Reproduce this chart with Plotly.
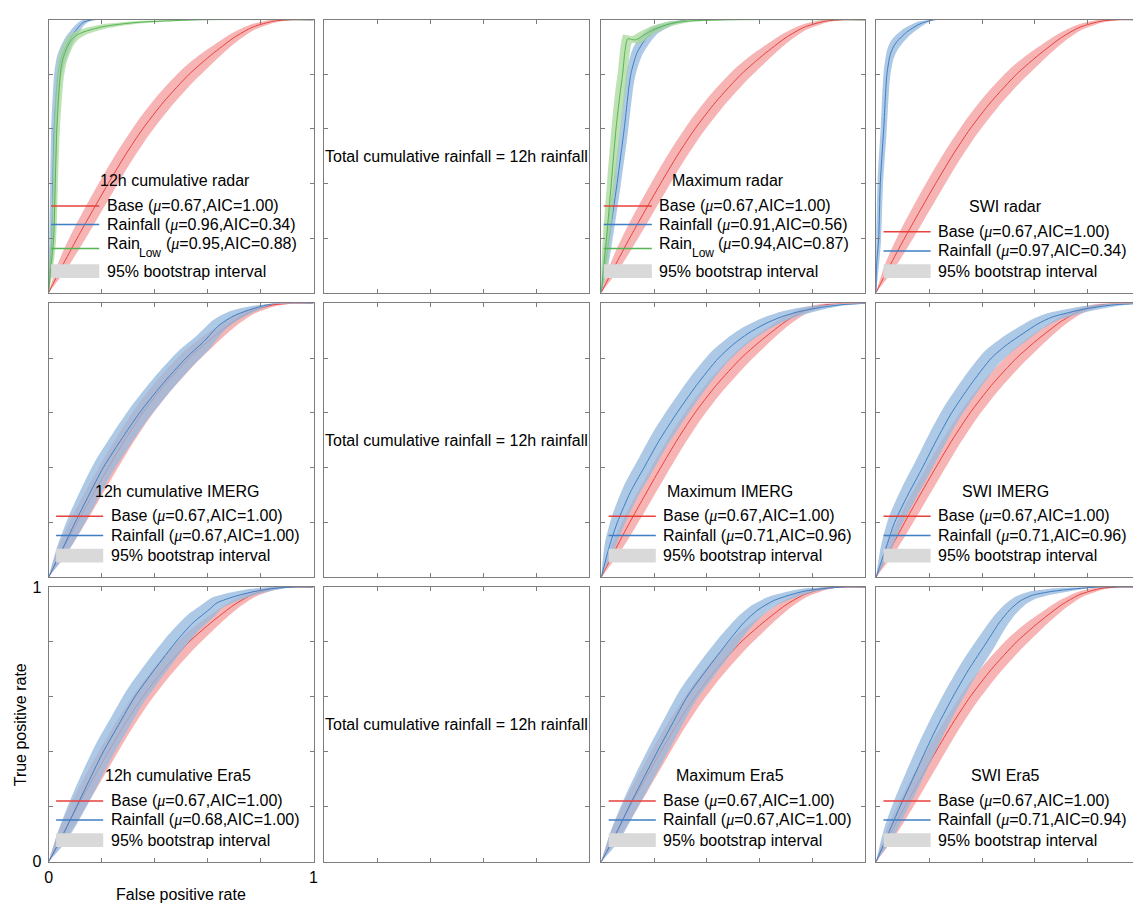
import plotly.graph_objects as go

W, H = 1138, 914

# ---------------- data ----------------
# Base model ROC (same in every panel)
base_fpr = [0, 0.05, 0.108, 0.16, 0.225, 0.29, 0.355, 0.435, 0.53, 0.6, 0.645, 0.7, 0.77, 0.85, 0.92, 1.0]
base_tpr = [0, 0.095, 0.2, 0.29, 0.4, 0.505, 0.6, 0.7, 0.8, 0.86, 0.895, 0.935, 0.973, 0.995, 1.0, 1.0]
base_band = [0, 0.014, 0.02, 0.022, 0.023, 0.023, 0.023, 0.023, 0.022, 0.019, 0.016, 0.013, 0.009, 0.005, 0, 0]

# 12h cumulative radar
r12_rain_fpr = [0, 0.004, 0.012, 0.016, 0.021, 0.028, 0.035, 0.045, 0.056, 0.075, 0.094, 0.13, 0.17, 1.0]
r12_rain_tpr = [0, 0.08, 0.2, 0.4, 0.6, 0.72, 0.8, 0.85, 0.88, 0.92, 0.95, 0.99, 1.0, 1.0]
r12_rain_band = [0, 0.007, 0.009, 0.01, 0.011, 0.012, 0.013, 0.014, 0.014, 0.013, 0.011, 0.007, 0, 0]
r12_low_fpr = [0, 0.006, 0.019, 0.025, 0.031, 0.037, 0.044, 0.052, 0.062, 0.081, 0.1, 0.131, 0.206, 0.33, 0.58, 1.0]
r12_low_tpr = [0, 0.07, 0.2, 0.4, 0.6, 0.71, 0.8, 0.85, 0.88, 0.92, 0.94, 0.955, 0.975, 0.99, 1.0, 1.0]
r12_low_band = [0, 0.007, 0.009, 0.01, 0.011, 0.012, 0.013, 0.014, 0.014, 0.013, 0.012, 0.01, 0.008, 0.005, 0, 0]

# Maximum radar
rmax_rain_fpr = [0, 0.012, 0.03, 0.06, 0.087, 0.112, 0.136, 0.165, 0.2, 0.26, 0.33, 1.0]
rmax_rain_tpr = [0, 0.08, 0.2, 0.4, 0.6, 0.8, 0.88, 0.925, 0.96, 0.985, 1.0, 1.0]
rmax_rain_band = [0, 0.009, 0.012, 0.013, 0.014, 0.015, 0.016, 0.015, 0.012, 0.007, 0, 0]
rmax_low_fpr = [0, 0.008, 0.02, 0.038, 0.056, 0.07, 0.081, 0.09, 0.1, 0.115, 0.13, 0.16, 0.2, 0.26, 0.33, 0.5, 1.0]
rmax_low_tpr = [0, 0.08, 0.2, 0.4, 0.6, 0.72, 0.8, 0.885, 0.93, 0.928, 0.926, 0.943, 0.965, 0.985, 0.995, 1.0, 1.0]
rmax_low_band = [0, 0.01, 0.013, 0.015, 0.016, 0.017, 0.017, 0.017, 0.016, 0.015, 0.014, 0.013, 0.011, 0.008, 0.004, 0, 0]

# SWI radar
rswi_rain_fpr = [0, 0.002, 0.01, 0.016, 0.029, 0.041, 0.053, 0.065, 0.079, 0.116, 0.166, 0.22, 1.0]
rswi_rain_tpr = [0, 0.1, 0.2, 0.4, 0.6, 0.8, 0.87, 0.9, 0.92, 0.955, 0.985, 1.0, 1.0]
rswi_rain_band = [0, 0.008, 0.009, 0.01, 0.011, 0.012, 0.013, 0.014, 0.014, 0.012, 0.008, 0, 0]

# 12h cumulative IMERG
i12_rain_fpr = [0, 0.048, 0.1, 0.152, 0.206, 0.272, 0.343, 0.425, 0.518, 0.585, 0.643, 0.7, 0.77, 0.855, 1.0]
i12_rain_tpr = [0, 0.095, 0.2, 0.3, 0.4, 0.5, 0.6, 0.7, 0.8, 0.86, 0.92, 0.955, 0.98, 1.0, 1.0]
i12_rain_band = [0, 0.016, 0.024, 0.027, 0.028, 0.028, 0.028, 0.028, 0.027, 0.024, 0.02, 0.016, 0.01, 0, 0]

# Maximum IMERG
imax_rain_fpr = [0, 0.03, 0.061, 0.11, 0.162, 0.22, 0.287, 0.36, 0.444, 0.5, 0.556, 0.62, 0.68, 0.75, 0.83, 0.92, 1.0]
imax_rain_tpr = [0, 0.11, 0.2, 0.31, 0.4, 0.5, 0.6, 0.7, 0.8, 0.85, 0.89, 0.925, 0.95, 0.97, 0.985, 0.996, 1.0]
imax_rain_band = [0, 0.016, 0.021, 0.024, 0.025, 0.026, 0.026, 0.026, 0.025, 0.023, 0.021, 0.018, 0.015, 0.012, 0.008, 0.003, 0]

# SWI IMERG
iswi_rain_fpr = [0, 0.035, 0.07, 0.12, 0.175, 0.228, 0.285, 0.355, 0.435, 0.495, 0.555, 0.61, 0.665, 0.79, 0.9, 1.0]
iswi_rain_tpr = [0, 0.1, 0.2, 0.3, 0.4, 0.5, 0.6, 0.7, 0.8, 0.85, 0.89, 0.925, 0.95, 0.98, 0.995, 1.0]
iswi_rain_band = [0, 0.016, 0.021, 0.024, 0.025, 0.026, 0.026, 0.026, 0.025, 0.023, 0.021, 0.018, 0.015, 0.01, 0.005, 0]

# 12h cumulative Era5
e12_rain_fpr = [0, 0.05, 0.105, 0.155, 0.206, 0.265, 0.325, 0.4, 0.48, 0.545, 0.605, 0.635, 0.7, 0.768, 0.85, 0.93, 1.0]
e12_rain_tpr = [0, 0.09, 0.2, 0.3, 0.4, 0.5, 0.6, 0.7, 0.8, 0.87, 0.917, 0.942, 0.965, 0.982, 0.995, 1.0, 1.0]
e12_rain_band = [0, 0.016, 0.024, 0.027, 0.028, 0.028, 0.028, 0.028, 0.027, 0.025, 0.022, 0.019, 0.015, 0.011, 0.006, 0, 0]

# Maximum Era5
emax_rain_fpr = [0, 0.05, 0.105, 0.158, 0.212, 0.268, 0.325, 0.4, 0.48, 0.54, 0.594, 0.657, 0.77, 0.91, 1.0]
emax_rain_tpr = [0, 0.09, 0.2, 0.3, 0.4, 0.5, 0.6, 0.7, 0.8, 0.87, 0.917, 0.952, 0.985, 1.0, 1.0]
emax_rain_band = [0, 0.016, 0.022, 0.025, 0.026, 0.026, 0.026, 0.026, 0.025, 0.022, 0.019, 0.015, 0.009, 0, 0]

# SWI Era5
eswi_rain_fpr = [0, 0.045, 0.09, 0.138, 0.185, 0.235, 0.29, 0.35, 0.418, 0.465, 0.505, 0.545, 0.59, 0.65, 0.715, 0.84, 1.0]
eswi_rain_tpr = [0, 0.1, 0.2, 0.3, 0.4, 0.5, 0.6, 0.7, 0.8, 0.87, 0.917, 0.95, 0.97, 0.982, 0.99, 1.0, 1.0]
eswi_rain_band = [0, 0.016, 0.022, 0.025, 0.026, 0.026, 0.026, 0.026, 0.025, 0.022, 0.019, 0.016, 0.013, 0.01, 0.007, 0, 0]

panel_titles = [
    ["12h cumulative radar", None, "Maximum radar", "SWI radar"],
    ["12h cumulative IMERG", None, "Maximum IMERG", "SWI IMERG"],
    ["12h cumulative Era5", None, "Maximum Era5", "SWI Era5"],
]
middle_text = "Total cumulative rainfall = 12h rainfall"

# legend statistics: (mu, AIC)
base_stats = ("0.67", "1.00")
rain_stats = [
    [("0.96", "0.34"), None, ("0.91", "0.56"), ("0.97", "0.34")],
    [("0.67", "1.00"), None, ("0.71", "0.96"), ("0.71", "0.96")],
    [("0.68", "1.00"), None, ("0.67", "1.00"), ("0.71", "0.94")],
]
low_stats = [[("0.95", "0.88"), None, ("0.94", "0.87"), None], None, None]

rain_curves = [
    [(r12_rain_fpr, r12_rain_tpr, r12_rain_band), None,
     (rmax_rain_fpr, rmax_rain_tpr, rmax_rain_band), (rswi_rain_fpr, rswi_rain_tpr, rswi_rain_band)],
    [(i12_rain_fpr, i12_rain_tpr, i12_rain_band), None,
     (imax_rain_fpr, imax_rain_tpr, imax_rain_band), (iswi_rain_fpr, iswi_rain_tpr, iswi_rain_band)],
    [(e12_rain_fpr, e12_rain_tpr, e12_rain_band), None,
     (emax_rain_fpr, emax_rain_tpr, emax_rain_band), (eswi_rain_fpr, eswi_rain_tpr, eswi_rain_band)],
]
low_curves = [[(r12_low_fpr, r12_low_tpr, r12_low_band), None,
               (rmax_low_fpr, rmax_low_tpr, rmax_low_band), None], None, None]

major_ticks = [0, 1]
minor_ticks = [0.2, 0.4, 0.6, 0.8]

# ---------------- style ----------------
FONT = "Arial, 'Liberation Sans', Helvetica, sans-serif"
RED, RED_FILL = "#E8413C", "rgba(242,125,125,0.58)"
BLUE, BLUE_FILL = "#3F7EC4", "rgba(150,186,222,0.78)"
GREEN, GREEN_FILL = "#55B553", "rgba(165,215,150,0.72)"
GRAY_PATCH = "#D9D9D9"
AXCOL = "#7d7d7d"

cols_px = [(45, 312), (323, 590), (602, 868), (879, 1146)]
rows_px = [(12, 290), (301, 580), (590, 870)]


def fx(p):
    return p / W


def fy(p):
    return 1 - p / H


fig = go.Figure()
annotations = []
shapes = []


def band_polygon(x, y, d):
    ux = [max(0.0, a - b) for a, b in zip(x, d)]
    uy = [min(1.0, a + b) for a, b in zip(y, d)]
    lx = [min(1.0, a + b) for a, b in zip(x, d)]
    ly = [max(0.0, a - b) for a, b in zip(y, d)]
    return ux + lx[::-1] + [ux[0]], uy + ly[::-1] + [uy[0]]


def add_curve(n, curve, line_col, fill_col):
    x, y, d = curve
    px_, py_ = band_polygon(x, y, d)
    ax = "" if n == 1 else str(n)
    fig.add_trace(go.Scatter(x=px_, y=py_, mode="lines", fill="toself", fillcolor=fill_col,
                             line=dict(width=0, shape="spline", smoothing=0.7), hoverinfo="skip",
                             showlegend=False, xaxis="x" + ax, yaxis="y" + ax))
    fig.add_trace(go.Scatter(x=x, y=y, mode="lines",
                             line=dict(color=line_col, width=1, shape="spline", smoothing=0.7),
                             showlegend=False, xaxis="x" + ax, yaxis="y" + ax))


MU = "<span style=\"font-family:'Liberation Serif', 'Times New Roman', serif\"><i>μ</i></span>"


def stat_text(st):
    return f"({MU}={st[0]},AIC={st[1]})"


def txt(x, y, text, size=16, xanchor="left", angle=0):
    annotations.append(dict(x=x, y=y, xref="paper", yref="paper", text=text, showarrow=False,
                            xanchor=xanchor, yanchor="middle", textangle=angle,
                            font=dict(family=FONT, size=size, color="black")))


# advance widths (Arial metrics) used to set the hand-made subscript
RAIN_W = 2.056 * 16
LOW_W = 1.834 * 12
SPACE_W = 0.278 * 16

layout_axes = {}
n = 0
for r in range(3):
    for c in range(4):
        n += 1
        x0, x1 = cols_px[c]
        y0, y1 = rows_px[r]
        clipped = x1 > W
        dom_x = [fx(x0), min(1.0, fx(x1))]
        xmax = (min(x1, W) - x0) / (x1 - x0)
        dom_y = [fy(y1), fy(y0)]
        labelled = (r == 2 and c == 0)
        common = dict(showgrid=False, zeroline=False, showline=True, linecolor=AXCOL, linewidth=1,
                      ticks="inside", ticklen=4, tickwidth=1, tickcolor=AXCOL,
                      tickmode="array", tickvals=major_ticks, showticklabels=labelled,
                      tickfont=dict(family=FONT, size=16, color="black"),
                      minor=dict(tickmode="array", tickvals=minor_ticks, ticks="inside", ticklen=4,
                                 tickwidth=1, tickcolor=AXCOL, showgrid=False),
                      fixedrange=True)
        xa = dict(domain=dom_x, range=[0, xmax], mirror="ticks", ticklabelstandoff=1,
                  anchor="y" if n == 1 else f"y{n}", **common)
        ya = dict(domain=dom_y, range=[0, 1], mirror=False if clipped else "ticks", ticklabelstandoff=3,
                  anchor="x" if n == 1 else f"x{n}", **common)
        key = "" if n == 1 else str(n)
        layout_axes["xaxis" + key] = xa
        layout_axes["yaxis" + key] = ya

        if c == 1:
            txt(fx((x0 + x1) / 2), fy((y0 + y1) / 2), middle_text, xanchor="center")
            fig.add_trace(go.Scatter(x=[None], y=[None], xaxis="x" + key, yaxis="y" + key,
                                     showlegend=False))
            continue

        add_curve(n, (base_fpr, base_tpr, base_band), RED, RED_FILL)
        add_curve(n, rain_curves[r][c], BLUE, BLUE_FILL)
        has_low = low_curves[r] is not None and low_curves[r][c] is not None
        if has_low:
            add_curve(n, low_curves[r][c], GREEN, GREEN_FILL)

        # legend block (drawn by hand, MATLAB style)
        entries = [("Base", base_stats, RED), ("Rainfall", rain_stats[r][c], BLUE)]
        if has_low:
            entries.append(("RainLow", low_stats[r][c], GREEN))
            title_rel = (127.5, 114)
            lx0, lx1, tx = 2.5, 51, 56.5
            rows_rel = [88.3, 69.3, 45]
        else:
            title_rel = (130, 87.5)
            lx0, lx1, tx = 7.5, 55, 60.5
            rows_rel = [62, 42.5]
        patch_rel = 22
        txt(fx(x0 + title_rel[0]), fy(y1 - title_rel[1]), panel_titles[r][c], xanchor="center")
        for (name, st, col), ry in zip(entries, rows_rel):
            shapes.append(dict(type="line", xref="paper", yref="paper",
                               x0=fx(x0 + lx0), x1=fx(x0 + lx1), y0=fy(y1 - ry), y1=fy(y1 - ry),
                               line=dict(color=col, width=1.5)))
            if name == "RainLow":
                ty = ry + 5
                txt(fx(x0 + tx), fy(y1 - ty), "Rain")
                txt(fx(x0 + tx + RAIN_W), fy(y1 - ry + 4.5), "Low", size=12)
                txt(fx(x0 + tx + RAIN_W + LOW_W + SPACE_W), fy(y1 - ty), stat_text(st))
            else:
                txt(fx(x0 + tx), fy(y1 - ry), f"{name} {stat_text(st)}")
        shapes.append(dict(type="rect", xref="paper", yref="paper",
                           x0=fx(x0 + lx0), x1=fx(x0 + lx1), y0=fy(y1 - patch_rel - 7), y1=fy(y1 - patch_rel + 7),
                           fillcolor=GRAY_PATCH, line=dict(width=0)))
        txt(fx(x0 + tx), fy(y1 - patch_rel), "95% bootstrap interval")

# axis titles
txt(fx(178.5), fy(903), "False positive rate", xanchor="center")
txt(fx(17), fy(730), "True positive rate", xanchor="center", angle=-90)

fig.update_layout(width=W, height=H, margin=dict(l=0, r=0, t=0, b=0),
                  paper_bgcolor="white", plot_bgcolor="white", showlegend=False,
                  annotations=annotations, shapes=shapes,
                  font=dict(family=FONT, size=16, color="black"), **layout_axes)

fig.write_html("out.html", config={"displayModeBar": False})
